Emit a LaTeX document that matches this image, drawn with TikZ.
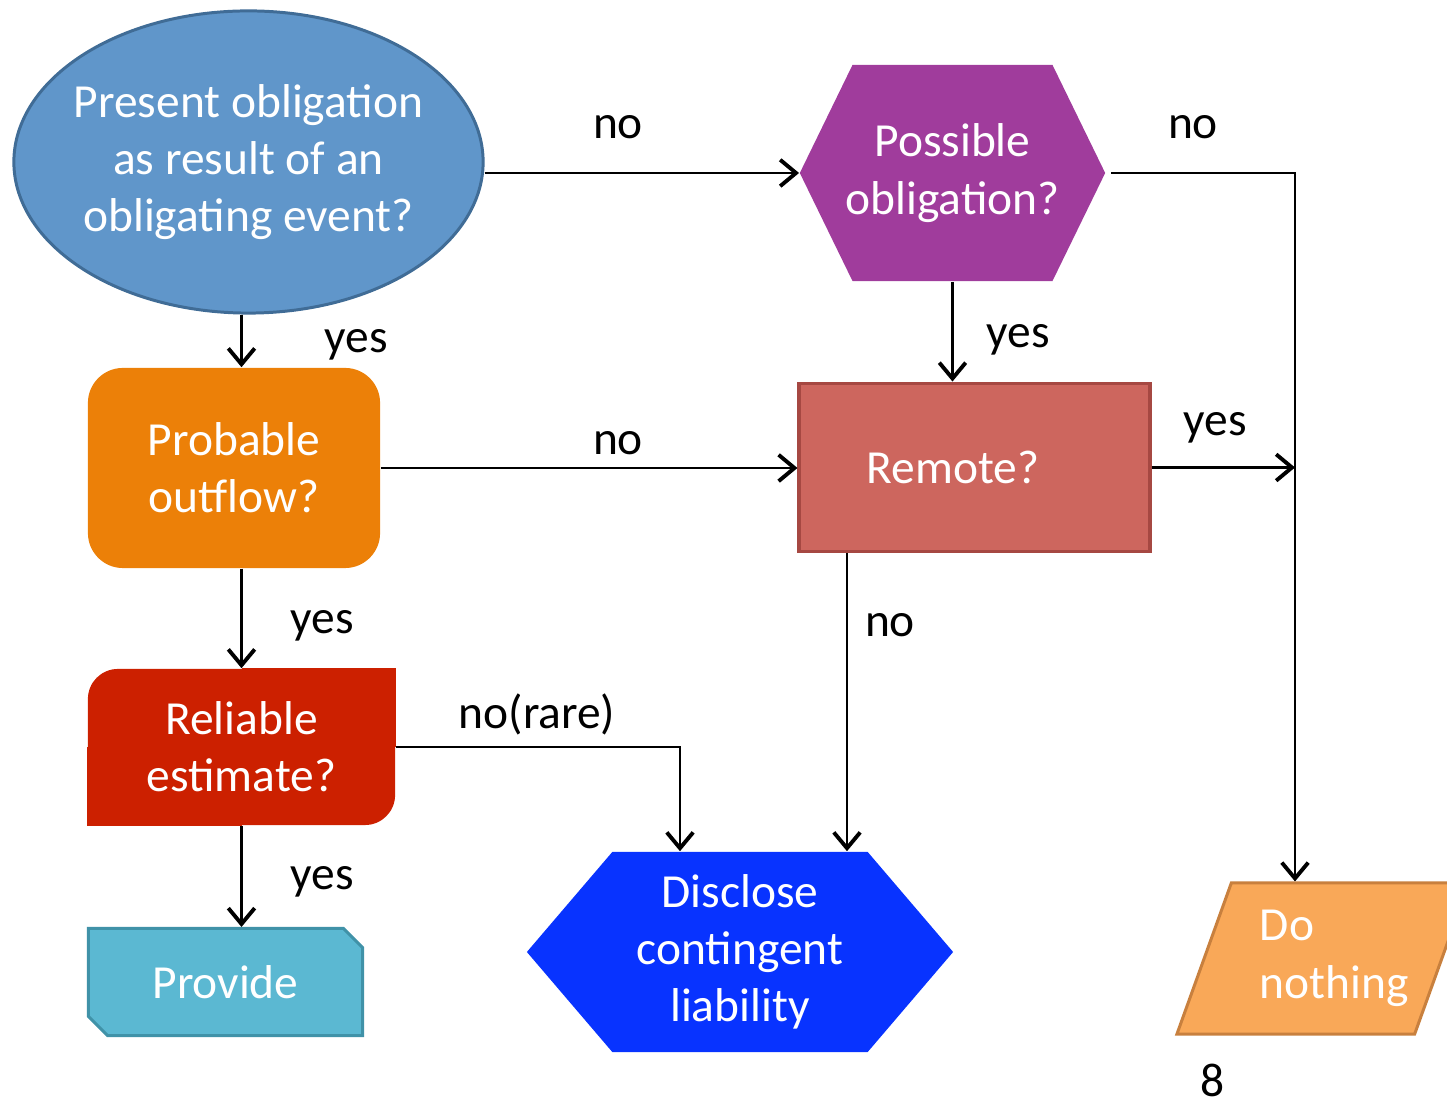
\documentclass[tikz,border=0pt]{standalone}
\usepackage{fontspec}
\setmainfont{Carlito}
\usepackage{tikz}
\usetikzlibrary{shapes.geometric,shapes.misc,shapes.symbols,arrows.meta,backgrounds,calc}
\usepackage{xcolor}
\definecolor{obblue}{RGB}{96,150,202}
\definecolor{obbluedark}{RGB}{64,108,150}
\definecolor{posspurple}{RGB}{160,60,156}
\definecolor{proborange}{RGB}{236,128,8}
\definecolor{remred}{RGB}{205,102,94}
\definecolor{remreddark}{RGB}{166,72,66}
\definecolor{relred}{RGB}{204,32,0}
\definecolor{provcyan}{RGB}{91,184,210}
\definecolor{provcyandark}{RGB}{64,146,168}
\definecolor{discblue}{RGB}{8,51,255}
\definecolor{donoorange}{RGB}{249,168,88}
\definecolor{donoorangedark}{RGB}{200,128,62}
\newcommand{\flowfont}{\fontsize{13.5}{16.3}\selectfont}

\begin{document}
\begin{tikzpicture}[x=0.01cm, y=-0.01cm,
    box/.style={text=white, font=\flowfont, align=center, inner sep=0pt},
    hexbox/.style={box, signal, signal to=west and east},
    lbl/.style={font=\flowfont, text=black, inner sep=0pt},
    arr/.style={-{Straight Barb[length=4.5pt,width=7.5pt,line width=1.1pt]}, line width=0.6pt}
]
    \useasboundingbox (0,0) rectangle (1447,1104);
    \node[box, ellipse, fill=obblue, draw=obbluedark, line width=0.85pt, inner xsep=-0.09cm,
        minimum width=4.69cm, minimum height=3.02cm] (pres) at (248.5,162)
        {Present obligation\\as result of an\\obligating event?};
    \node[hexbox, fill=posspurple, signal pointer angle=128, inner xsep=-0.07cm,
        minimum width=2.91cm, minimum height=2.16cm] (poss) at (952.5,173)
        {Possible\\obligation?};
    \node[box, rectangle, rounded corners=0.35cm, fill=proborange,
        minimum width=2.92cm, minimum height=2.0cm] (prob) at (234,468)
        {Probable\\outflow?};
    \node[box, rectangle, fill=remred, draw=remreddark, line width=1.1pt,
        minimum width=3.5cm, minimum height=1.68cm] (rem) at (974.5,467.5)
        {Remote?\hspace*{0.43cm}};
    \node[box, rectangle, rounded corners=0.3cm, fill=relred,
        minimum width=3.07cm, minimum height=1.56cm] (rel) at (241.5,747)
        {Reliable\\estimate?};
    \node[box, chamfered rectangle, chamfered rectangle corners={north east,south west},
        chamfered rectangle xsep=0.1cm, chamfered rectangle ysep=0.09cm,
        fill=provcyan, draw=provcyandark, line width=0.85pt,
        minimum width=2.74cm, minimum height=1.07cm] (prov) at (225.5,982)
        {Provide};
    \node[hexbox, fill=discblue, signal pointer angle=99,
        minimum width=4.26cm, minimum height=2.0cm] (disc) at (740,952)
        {Disclose\\contingent\\liability};
    \node[box, trapezium, trapezium left angle=68.7, trapezium right angle=111.3,
        trapezium stretches=true, fill=donoorange, draw=donoorangedark, line width=0.85pt,
        minimum width=2.92cm, minimum height=1.51cm, text width=1.26cm, align=left] (dono) at (1323,958.5)
        {Do\\nothing};
    \node[lbl] (page) at (1213,1080) {8};

    \begin{scope}[on background layer]
        \fill[relred] (rel.center) rectangle (rel.north east);
        \fill[relred] (rel.center) rectangle (rel.south west);
    \end{scope}

    \coordinate (discl) at ($(disc.north)+(-60,0)$);
    \coordinate (discr) at ($(disc.north)+(107,0)$);
    \coordinate (nothingin) at ($(dono.north)+(-28,0)$);

    \draw[arr] (poss.west -| pres.east) -- (poss.west);
    \draw[arr] (pres.south -| rel.north) -- (prob.north -| rel.north);
    \draw[arr] (prob.east) -- (rem.west |- prob.east);
    \draw[arr] (poss.south) -- (rem.north -| poss.south);
    \draw[arr] ([xshift=1.5pt]poss.east) -- (poss.east -| nothingin) -- (nothingin);
    \draw[arr] (rem.east) -- (rem.east -| nothingin);
    \draw[arr] (rem.south -| discr) -- (discr);
    \draw[arr] (prob.south -| rel.north) -- (rel.north);
    \draw[arr] (rel.east) -| (discl);
    \draw[arr] (rel.south) -- (prov.north -| rel.south);

    \node[lbl] (l1) at (618,127) {no};
    \node[lbl] (l2) at (1193,127) {no};
    \node[lbl] (l3) at (356,345) {yes};
    \node[lbl] (l4) at (1018,340) {yes};
    \node[lbl] (l5) at (618,443) {no};
    \node[lbl] (l6) at (1215,428) {yes};
    \node[lbl] (l7) at (322,626) {yes};
    \node[lbl] (l8) at (890,625) {no};
    \node[lbl] (l9) at (537,714) {no(rare)};
    \node[lbl] (l10) at (322,882) {yes};
\end{tikzpicture}
\end{document}
